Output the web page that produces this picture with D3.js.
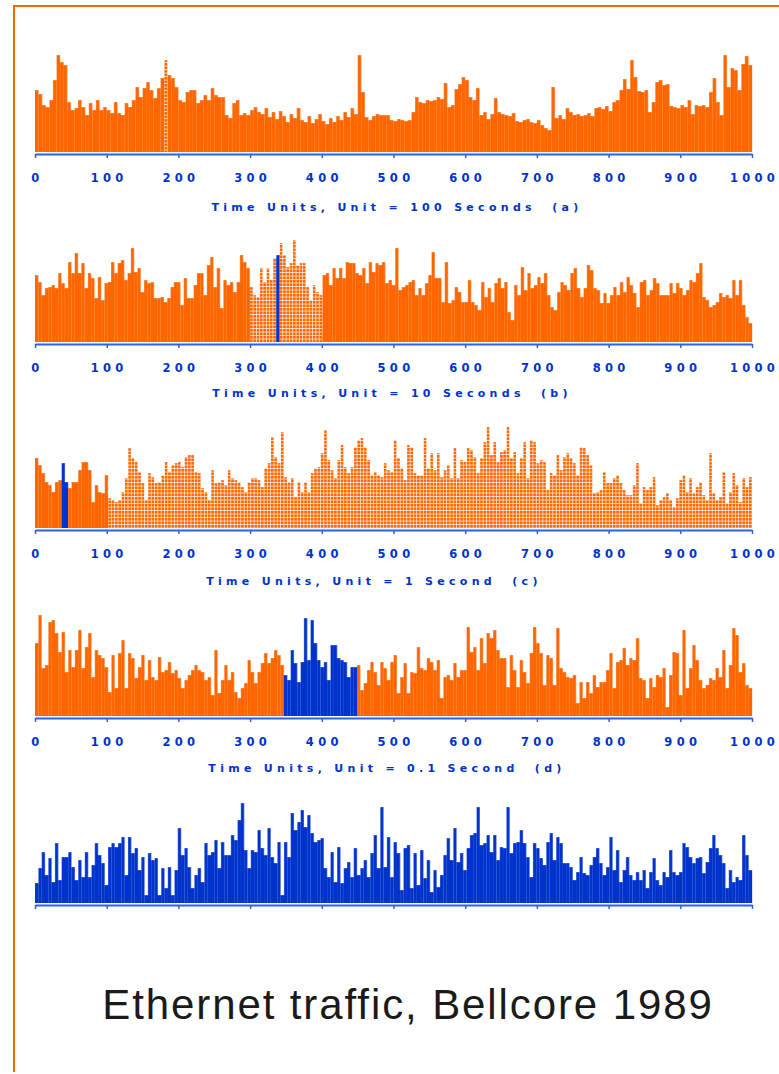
<!DOCTYPE html>
<html>
<head>
<meta charset="utf-8">
<script src="https://cdn.jsdelivr.net/npm/d3@7"></script>
<style>
  body { margin: 0; background: #fff; }
</style>
</head>
<body>
<svg id="chart" width="779" height="1074"></svg>
<script>
// traffic per time bin (bar heights, 0..100)
const seriesA = [62,58,47,45,52,72,97,90,87,50,42,44,52,45,37,49,42,52,42,45,42,39,50,39,37,49,45,52,65,55,64,70,62,54,64,74,92,77,74,65,52,50,60,62,62,49,52,57,52,64,57,55,55,37,34,49,52,37,39,37,
  42,45,40,
  38,44,35,40,33,41,36,30,38,34,44,32,30,36,29,33,38,31,28,34,30,36,32,40,35,44,38,97,60,35,32,36,38,37,
  37,37,32,31,33,32,31,32,40,55,50,49,52,51,52,55,53,69,45,47,63,68,75,72,55,52,64,37,40,33,38,54,40,38,37,36,39,31,30,32,33,30,29,32,27,24,22,65,34,37,33,44,40,37,38,36,37,39,36,44,45,43,46,41,50,52,62,73,63,92,75,61,60,62,40,50,70,72,67,68,46,45,44,47,45,52,38,47,46,47,45,60,74,50,37,97,65,84,82,62,88,96,87];

const seriesB = [67,60,47,54,55,57,54,69,59,54,80,69,89,69,79,54,69,64,44,65,42,59,60,80,69,79,82,62,69,94,70,74,50,62,59,60,44,44,45,40,44,55,60,60,37,64,44,44,57,69,69,47,77,85,55,74,34,62,57,60,50,60,87,80,74,55,47,45,74,60,74,62,84,87,99,87,75,79,102,77,79,79,55,42,57,50,47,67,69,57,74,64,74,64,80,79,79,69,67,74,59,80,70,79,
  77,80,59,62,57,94,52,55,57,60,62,47,54,47,59,67,90,64,64,40,80,39,42,55,50,40,40,62,40,37,32,60,45,54,40,59,64,54,60,30,22,57,47,75,52,69,54,57,65,59,69,47,35,32,50,60,57,52,69,74,54,45,54,77,72,54,52,39,49,39,47,55,47,60,50,65,57,49,35,60,62,47,52,64,59,47,47,47,59,49,59,54,47,52,62,60,69,79,45,42,35,37,40,49,45,47,44,62,47,62,37,25,19];

const seriesC = [70,63,55,46,43,36,46,48,65,46,40,46,46,58,66,66,58,26,43,36,35,53,30,28,26,28,36,50,80,70,66,56,45,28,55,51,45,46,53,66,56,63,65,66,61,71,73,73,56,55,40,36,28,58,45,46,48,43,58,50,48,46,41,36,46,50,50,48,41,60,65,91,71,65,96,51,46,50,31,46,36,46,36,55,60,61,75,98,68,58,50,68,83,61,55,61,81,88,90,81,68,53,56,53,
  51,65,58,56,88,70,60,48,83,81,55,53,53,90,60,75,58,75,51,58,63,50,80,50,68,66,80,78,71,55,70,86,101,73,86,66,76,78,101,70,76,55,70,86,50,88,86,65,68,66,38,55,53,73,58,71,75,70,65,53,81,80,73,63,35,36,38,56,45,45,50,53,45,38,33,33,43,65,25,41,38,41,51,23,28,31,35,28,21,30,48,53,36,50,35,41,46,33,28,75,35,28,31,56,25,36,55,43,26,50,41,51];

const seriesD = [73,101,48,51,94,96,83,64,84,44,66,49,66,86,48,69,83,39,66,61,58,49,24,61,28,63,76,28,63,58,38,49,61,36,56,39,36,59,44,46,54,43,46,38,28,36,41,46,51,46,44,36,39,21,66,23,36,51,36,44,24,18,28,33,56,44,33,44,53,63,53,58,66,61,51,41,36,66,53,34,54,98,56,96,73,56,49,54,36,71,71,58,56,54,39,49,49,51,26,33,46,54,44,31,
  54,48,36,54,61,23,39,53,23,44,43,69,48,46,58,54,46,56,18,39,41,36,53,39,46,46,89,64,69,46,78,53,83,78,86,66,58,58,29,61,46,29,56,44,33,63,89,73,63,31,61,58,31,88,48,44,39,38,41,13,34,18,34,23,41,29,34,34,46,63,28,54,56,68,51,58,56,78,38,36,18,38,29,41,39,48,9,41,64,63,21,86,28,48,71,56,36,28,31,38,36,48,39,66,28,51,88,81,44,53,31,28];

const seriesE = [20,35,51,28,45,21,60,23,46,46,51,36,23,43,26,51,26,38,60,48,40,18,56,60,56,60,66,28,66,50,55,33,46,8,50,43,45,8,35,15,36,8,33,75,48,55,36,15,28,35,21,60,48,51,63,35,61,48,48,68,63,83,100,53,35,53,51,73,55,48,75,46,40,61,8,61,46,90,73,81,93,76,88,70,61,63,65,35,26,51,21,56,20,35,41,26,55,28,35,43,26,50,68,35,
  96,36,66,26,61,50,13,55,58,15,50,18,53,25,43,11,33,16,28,48,65,43,75,41,50,33,55,68,70,96,58,60,68,51,68,43,56,55,96,50,60,61,73,60,46,26,60,55,45,38,61,70,43,66,60,40,40,36,23,31,46,30,28,38,46,55,40,28,36,66,33,53,21,33,46,28,23,31,23,33,15,31,45,23,18,31,26,53,31,28,31,60,56,46,40,45,46,30,41,55,68,55,48,40,15,33,21,26,23,68,48,33];

const captions = [
  "Time Units, Unit = 100 Seconds  (a)",
  "Time Units, Unit = 10 Seconds  (b)",
  "Time Units, Unit = 1 Second  (c)",
  "Time Units, Unit = 0.1 Second  (d)",
  null
];
const tickValues = [0, 100, 200, 300, 400, 500, 600, 700, 800, 900, 1000];
// time-unit ranges that are zoomed into in the next panel
const dottedRanges = [[178, 186], [300, 402], [100, 1000], null, null];
const blueRanges = [null, [337, 341], [36, 47], [348, 450], [0, 1000]];
const title = "Ethernet traffic, Bellcore 1989";

const allSeries = [seriesA, seriesB, seriesC, seriesD, seriesE];
const baselines = [152, 342, 528, 716, 903];
const captionX = [397, 392, 374, 387];
const captionDy = [59, 55, 57, 56];

const ORANGE = "#ff6600", BLUE = "#0033cc", AXIS = "#3060e0";

const svg = d3.select("#chart");

// frame
svg.append("line").attr("x1", 14).attr("x2", 779).attr("y1", 6).attr("y2", 6)
  .attr("stroke", ORANGE).attr("stroke-width", 2);
svg.append("line").attr("x1", 14).attr("x2", 14).attr("y1", 5).attr("y2", 1072)
  .attr("stroke", ORANGE).attr("stroke-width", 2);

// dotted fill
const defs = svg.append("defs");
const pat = defs.append("pattern").attr("id", "dots")
  .attr("patternUnits", "userSpaceOnUse").attr("width", 4).attr("height", 3.5);
pat.append("rect").attr("width", 4).attr("height", 3.5).attr("fill", "#ffd9bf");
pat.append("rect").attr("width", 4).attr("height", 2.6).attr("fill", ORANGE);

const x = d3.scaleLinear().domain([0, 1000]).range([35, 752]);

function inRange(r, u) { return r && u >= r[0] && u <= r[1]; }

allSeries.forEach((values, p) => {
  const base = baselines[p];
  const y = d3.scaleLinear().domain([0, 100]).range([base, base - 100]);
  const n = values.length;
  const step = 1000 / n;
  const bars = values.map((v, i) => {
    const mid = (i + 0.5) * step;
    let kind = "solid";
    if (inRange(blueRanges[p], mid)) kind = "blue";
    else if (inRange(dottedRanges[p], mid)) kind = "dotted";
    return { i, v, u0: i * step, u1: (i + 1) * step, kind };
  });

  const g = svg.append("g");

  g.selectAll("rect.bar")
    .data(bars)
    .enter()
    .append("rect")
    .attr("class", "bar")
    .attr("x", d => x(d.u0) + (d.kind === "dotted" ? 0.3 : 0))
    .attr("width", d => x(d.u1) - x(d.u0) + (d.kind === "dotted" ? -0.6 : 0.15))
    .attr("y", d => y(d.v))
    .attr("height", d => y(0) - y(d.v))
    .attr("fill", d => d.kind === "blue" ? BLUE : d.kind === "dotted" ? "url(#dots)" : ORANGE);

  // pale outline of the step shape
  const pts = [];
  bars.forEach(d => { pts.push([x(d.u0), y(d.v)]); pts.push([x(d.u1), y(d.v)]); });
  g.append("path")
    .attr("d", d3.line()(pts))
    .attr("fill", "none")
    .attr("stroke", "rgba(255,255,255,0.45)")
    .attr("stroke-width", 0.7);

  // axis
  const axis = d3.axisBottom(x).tickValues(tickValues).tickSize(4).tickSizeOuter(0)
    .tickPadding(16).tickFormat(d3.format("d"));
  if (!captions[p]) axis.tickFormat("");
  const ax = svg.append("g").attr("transform", `translate(0,${base + 2})`).call(axis);
  ax.select(".domain").attr("stroke", AXIS).attr("stroke-width", 2);
  ax.selectAll(".tick line").attr("stroke", AXIS).attr("stroke-width", 1.5);
  ax.selectAll(".tick text")
    .attr("fill", BLUE)
    .attr("font-family", "DejaVu Sans")
    .attr("font-weight", "bold")
    .attr("font-size", 11.5)
    .attr("letter-spacing", "4.3px")
    .attr("dx", "2px");

  if (captions[p]) {
    svg.append("text")
      .attr("x", captionX[p])
      .attr("y", base + captionDy[p])
      .attr("text-anchor", "middle")
      .attr("fill", BLUE)
      .attr("font-family", "DejaVu Sans")
      .attr("font-weight", "bold")
      .attr("font-size", 11)
      .attr("letter-spacing", "4.3px")
      .attr("xml:space", "preserve")
      .text(captions[p]);
  }
});

svg.append("text")
  .attr("x", 408)
  .attr("y", 1019)
  .attr("text-anchor", "middle")
  .attr("font-family", "Liberation Sans, Helvetica, Arial, sans-serif")
  .attr("font-size", 42)
  .attr("letter-spacing", "1.9px")
  .attr("fill", "#1a1a1a")
  .text(title);
</script>
</body>
</html>
